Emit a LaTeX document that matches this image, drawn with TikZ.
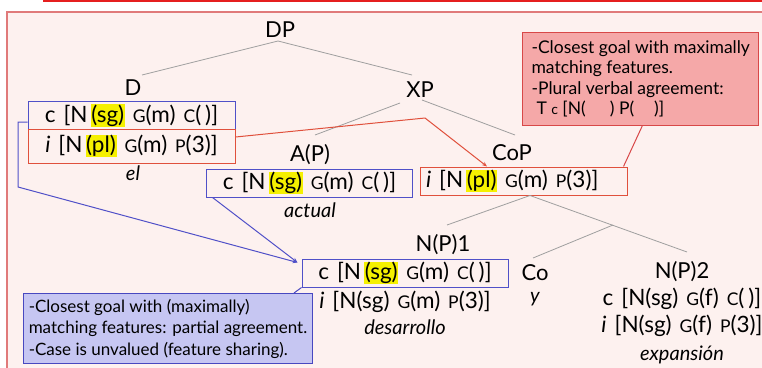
\documentclass[tikz,border=0pt]{standalone}
\usepackage{fontspec}
\setmainfont{Lato}
\usetikzlibrary{arrows.meta,calc}

\definecolor{slidebg}{HTML}{FDF1EF}
\definecolor{framered}{HTML}{E07A7A}
\definecolor{topred}{HTML}{E51F1F}
\definecolor{boxblue}{HTML}{5050C8}
\definecolor{boxred}{HTML}{E0503C}
\definecolor{hlyellow}{HTML}{F5F000}
\definecolor{noteredfill}{HTML}{F5A8A8}
\definecolor{noteredline}{HTML}{D84848}
\definecolor{notebluefill}{HTML}{C6C6F2}
\definecolor{noteblueline}{HTML}{4848C0}

\newcommand{\hl}[1]{{\setlength{\fboxsep}{0.6pt}\colorbox{hlyellow}{#1}}}
\newcommand{\smc}[1]{{\fontsize{17.5}{20}\selectfont #1}}
\newcommand{\emptyval}{(\hspace{4pt})}
\newcommand{\widespaces}{\spaceskip=8pt plus 2pt\relax}

\begin{document}
\begin{tikzpicture}[
    x=1pt, y=-1pt,
    lbl/.style={font=\fontsize{22}{26}\selectfont, inner sep=1pt},
    feat/.style={font=\fontsize{22.5}{26}\selectfont, execute at begin node=\widespaces, inner sep=1pt},
    word/.style={font=\fontsize{20}{24}\selectfont\itshape, inner sep=1pt},
    featbox/.style={feat, line width=1pt, minimum width=207, minimum height=28},
    bluebox/.style={featbox, draw=boxblue},
    redbox/.style={featbox, draw=boxred},
    branch/.style={draw=gray!75, line width=0.8pt},
    note/.style={font=\fontsize{17.5}{20.5}\selectfont, align=left, anchor=north west, line width=1pt},
    link/.style={line width=1pt, -{Stealth[length=5pt,width=4pt]}}
]

\useasboundingbox (0,0) rectangle (762,367);
\fill[white] (0,0) rectangle (762,367);
\draw[topred, line width=3pt] (43,0) -- (770,0);
\draw[framered, fill=slidebg, line width=1.2pt] (7,12) rectangle (775,380);

% tree labels
\node[lbl] (dp) at (280,30) {DP};
\node[lbl] (d) at (133,88) {D};
\node[lbl] (xp) at (420,90) {XP};
\node[lbl] (ap) at (310,155) {A(P)};
\node[lbl] (cop) at (512,153) {CoP};
\node[lbl] (np1) at (443,245) {N(P)1};
\node[lbl] (co) at (535,273) {Co};
\node[lbl] (np2) at (682,272) {N(P)2};

% feature boxes
\node[bluebox] (dc) at (131.5,115.5) {c [N\hspace{3pt}\hl{(sg)} \smc{G}(m) \smc{C}\emptyval]};
\node[redbox, minimum height=34] (di) at (131.5,146) {\textit{i} [N\hspace{3pt}\hl{(pl)} \smc{G}(m) \smc{P}(3)]};
\node[word] (el) at (133,173) {el};

\node[bluebox, minimum width=206] (ac) at (309.5,183) {c [N\hspace{3pt}\hl{(sg)} \smc{G}(m) \smc{C}\emptyval]};
\node[word] (actual) at (310,210) {actual};

\node[redbox, text width=195, align=left, inner xsep=6pt] (ci) at (523.5,181) {\textit{i} [N\hspace{3pt}\hl{(pl)} \smc{G}(m) \smc{P}(3)]};

\node[bluebox, minimum width=206] (n1c) at (405,273) {c [N\hspace{3pt}\hl{(sg)} \smc{G}(m) \smc{C}\emptyval]};
\node[feat] (n1i) at (405,302) {\textit{i} [N(sg) \smc{G}(m) \smc{P}(3)]};
\node[word] (desarrollo) at (405,327) {desarrollo};

\node[word] (y) at (535,299) {y};

\node[feat] (n2c) at (682,299) {c [N(sg) \smc{G}(f) \smc{C}\emptyval]};
\node[feat] (n2i) at (682,326) {\textit{i} [N(sg) \smc{G}(f) \smc{P}(3)]};
\node[word] (expansion) at (682,355) {expansión};

% branches
\draw[branch] ($(dp)+(-2,11)$) -- ($(d)+(9,-13)$);
\draw[branch] ($(dp)+(-2,11)$) -- ($(xp)+(-8,-15)$);
\draw[branch] ($(xp)+(-20,13)$) -- ($(ap)+(5,-20)$);
\draw[branch] ($(xp)+(2,10)$) -- ($(cop)+(3,-18)$);
\coordinate (cbar) at (613,225);
\draw[branch] ($(ci.south)+(6.5,0)$) -- ($(np1)+(4,-20)$);
\draw[branch] ($(ci.south)+(6.5,0)$) -- ($(np2)+(5,-20)$);
\draw[branch] (cbar) -- ($(co)+(-2,-15)$);

% agreement links
\coordinate (rbend) at (425,118);
\draw[link, boxred] ($(di.east)+(0,-9)$) -- (rbend) -- ($(ci.north)+(-36.5,0)$);
\coordinate (bl1) at (18,122);
\coordinate (bl2) at (18,187);
\draw[link, boxblue] ($(dc.west)+(0,6.5)$) -- (bl1) -- (bl2) -- ($(n1c.north west)+(-4,4)$);
\draw[link, boxblue] ($(ac.south west)+(6.5,0)$) -- ($(n1c.north west)+(-4,4)$);

% notes
\node[note, draw=noteredline, fill=noteredfill, minimum width=233, minimum height=93, inner xsep=9pt, inner ysep=4pt] (rnote) at (522,32)
  {-Closest goal with maximally\\matching features.\\-Plural verbal agreement:\\\hspace*{5pt}T {\fontsize{14}{16}\selectfont c} [N(\hspace{24pt}) P(\hspace{20pt})]};
\draw[noteredline, line width=1pt] ($(rnote.south)+(1.5,0)$) -- ($(ci.north east)+(-4,0)$);

\node[note, draw=noteblueline, fill=notebluefill, minimum width=289, minimum height=70, inner xsep=4pt, inner ysep=4pt, font=\fontsize{17}{21.5}\selectfont] (bnote) at (23,293)
  {-Closest goal with (maximally)\\matching features: partial agreement.\\-Case is unvalued (feature sharing).};
\draw[noteblueline, line width=1pt] ($(bnote.north east)+(-19,0)$) -- (n1c.south west);

\end{tikzpicture}
\end{document}
